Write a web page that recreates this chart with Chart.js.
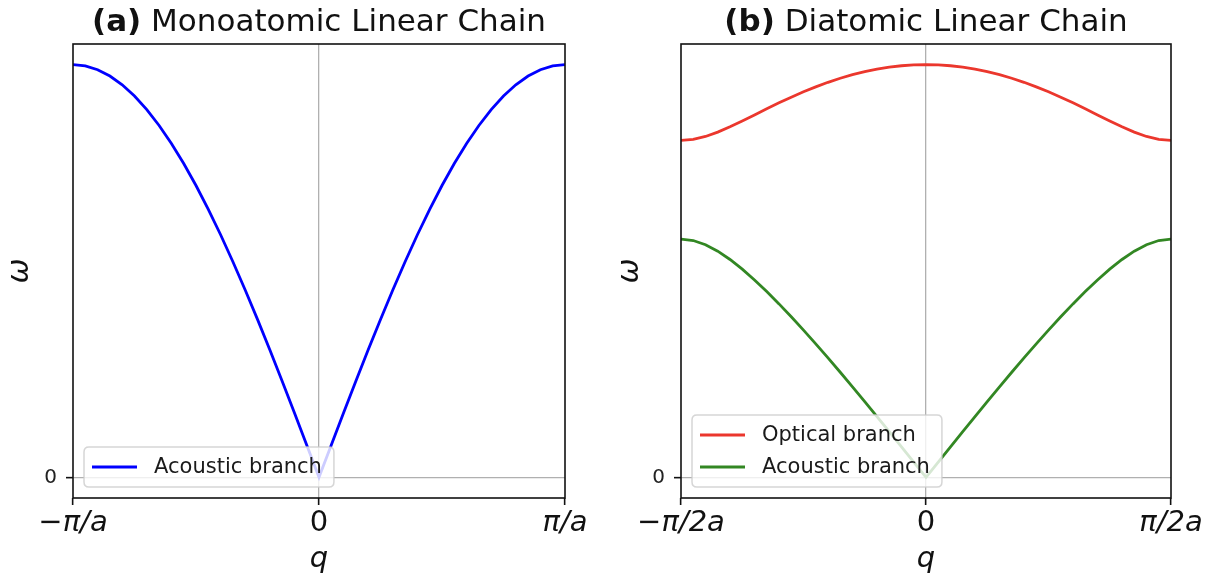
<!DOCTYPE html>
<html>
<head>
<meta charset="utf-8">
<script src="https://cdn.jsdelivr.net/npm/chart.js@4.4.1/dist/chart.umd.min.js"></script>
<style>
  html, body { margin: 0; padding: 0; background: #ffffff; }
  #wrap { position: relative; width: 1219px; height: 584px; overflow: hidden; }
  canvas { position: absolute; top: 0; }
</style>
</head>
<body>
<div id="wrap">
  <canvas id="left" width="610" height="584" style="left:0px"></canvas>
  <canvas id="right" width="609" height="584" style="left:610px"></canvas>
</div>
<script>
// ---- data (wave vector in units of the zone edge, omega in arbitrary units) ----
const qMono = [-1, -0.95, -0.9, -0.85, -0.8, -0.75, -0.7, -0.65, -0.6, -0.55, -0.5, -0.45, -0.4, -0.35, -0.3, -0.25, -0.2, -0.15, -0.1, -0.05, 0,
  0.05, 0.1, 0.15, 0.2, 0.25, 0.3, 0.35, 0.4, 0.45, 0.5, 0.55, 0.6, 0.65, 0.7, 0.75, 0.8, 0.85, 0.9, 0.95, 1];
const omegaMono = [1, 0.9969, 0.9877, 0.9724, 0.9511, 0.9239, 0.8910, 0.8526, 0.8090, 0.7604, 0.7071, 0.6494, 0.5878, 0.5225, 0.4540, 0.3827, 0.3090, 0.2334, 0.1564, 0.0785, 0,
  0.0785, 0.1564, 0.2334, 0.3090, 0.3827, 0.4540, 0.5225, 0.5878, 0.6494, 0.7071, 0.7604, 0.8090, 0.8526, 0.8910, 0.9239, 0.9511, 0.9724, 0.9877, 0.9969, 1];

const qDi = [-1, -0.95, -0.9, -0.85, -0.8, -0.75, -0.7, -0.65, -0.6, -0.55, -0.5, -0.45, -0.4, -0.35, -0.3, -0.25, -0.2, -0.15, -0.1, -0.05, 0,
  0.05, 0.1, 0.15, 0.2, 0.25, 0.3, 0.35, 0.4, 0.45, 0.5, 0.55, 0.6, 0.65, 0.7, 0.75, 0.8, 0.85, 0.9, 0.95, 1];
const omegaOptical = [0.8165, 0.8190, 0.8260, 0.8365, 0.8493, 0.8635, 0.8782, 0.8930, 0.9074, 0.9212, 0.9342, 0.9462, 0.9572, 0.9670, 0.9756, 0.9830, 0.9891, 0.9939, 0.9973, 0.9993, 1.0,
  0.9993, 0.9973, 0.9939, 0.9891, 0.9830, 0.9756, 0.9670, 0.9572, 0.9462, 0.9342, 0.9212, 0.9074, 0.8930, 0.8782, 0.8635, 0.8493, 0.8365, 0.8260, 0.8190, 0.8165];
const omegaAcoustic = [0.5774, 0.5738, 0.5637, 0.5480, 0.5279, 0.5044, 0.4783, 0.4501, 0.4203, 0.3891, 0.3568, 0.3235, 0.2895, 0.2547, 0.2194, 0.1835, 0.1473, 0.1107, 0.0739, 0.0370, 0,
  0.0370, 0.0739, 0.1107, 0.1473, 0.1835, 0.2194, 0.2547, 0.2895, 0.3235, 0.3568, 0.3891, 0.4203, 0.4501, 0.4783, 0.5044, 0.5279, 0.5480, 0.5637, 0.5738, 0.5774];

const xTickValues = [-1, 0, 1];
const monoTickLabels = ['\u2212\u03C0/a', '0', '\u03C0/a'];
const diTickLabels = ['\u2212\u03C0/2a', '0', '\u03C0/2a'];
const yTickValues = [0];
const yTickLabels = ['0'];

const titleMono = ['(a)', ' Monoatomic Linear Chain'];
const titleDi = ['(b)', ' Diatomic Linear Chain'];
const legendMono = ['Acoustic branch'];
const legendDi = ['Optical branch', 'Acoustic branch'];

// ---- styling ----
const FONT = "'DejaVu Sans', 'Liberation Sans', sans-serif";
const BLUE = '#0000ff';
const RED = 'rgb(235,55,45)';
const GREEN = 'rgb(50,135,35)';

function pts(xs, ys) { return xs.map((x, i) => ({ x: x, y: ys[i] })); }

function panelPlugin(titleParts, legendItems) {
  return {
    id: 'panel',
    afterDraw(chart) {
      const ctx = chart.ctx;
      const a = chart.chartArea;
      ctx.save();
      // legend (lower left, semi-transparent frame)
      ctx.font = '21px ' + FONT;
      let maxW = 0;
      legendItems.forEach(it => { maxW = Math.max(maxW, ctx.measureText(it.label).width); });
      const rowH = 32;
      const bx = a.left + 11;
      const bh = 8 + rowH * legendItems.length;
      const by = a.bottom - 11 - bh;
      const bw = 70 + maxW + 12;
      const r = 5;
      ctx.beginPath();
      ctx.moveTo(bx + r, by);
      ctx.lineTo(bx + bw - r, by);
      ctx.quadraticCurveTo(bx + bw, by, bx + bw, by + r);
      ctx.lineTo(bx + bw, by + bh - r);
      ctx.quadraticCurveTo(bx + bw, by + bh, bx + bw - r, by + bh);
      ctx.lineTo(bx + r, by + bh);
      ctx.quadraticCurveTo(bx, by + bh, bx, by + bh - r);
      ctx.lineTo(bx, by + r);
      ctx.quadraticCurveTo(bx, by, bx + r, by);
      ctx.closePath();
      ctx.fillStyle = 'rgba(255,255,255,0.8)';
      ctx.fill();
      ctx.strokeStyle = 'rgba(204,204,204,0.8)';
      ctx.lineWidth = 1.5;
      ctx.stroke();
      legendItems.forEach((it, i) => {
        const cy = by + 4 + rowH / 2 + i * rowH;
        ctx.beginPath();
        ctx.moveTo(bx + 8, cy);
        ctx.lineTo(bx + 53, cy);
        ctx.strokeStyle = it.color;
        ctx.lineWidth = 2.8;
        ctx.stroke();
        ctx.fillStyle = '#1a1a1a';
        ctx.textBaseline = 'middle';
        ctx.textAlign = 'left';
        ctx.fillText(it.label, bx + 70, cy + 1);
      });
      // axes frame
      ctx.strokeStyle = '#111';
      ctx.lineWidth = 1.6;
      ctx.strokeRect(a.left, a.top, a.right - a.left, a.bottom - a.top);
      // title: bold tag + normal text, centred over the axes
      const boldFont = 'bold 31px ' + FONT;
      const normFont = '31px ' + FONT;
      ctx.font = boldFont;
      const w1 = ctx.measureText(titleParts[0]).width;
      ctx.font = normFont;
      const w2 = ctx.measureText(titleParts[1]).width;
      const cx = (a.left + a.right) / 2;
      let x0 = cx - (w1 + w2) / 2;
      ctx.textBaseline = 'alphabetic';
      ctx.textAlign = 'left';
      ctx.fillStyle = '#111';
      ctx.font = boldFont;
      ctx.fillText(titleParts[0], x0, 31);
      ctx.font = normFont;
      ctx.fillText(titleParts[1], x0 + w1, 31);
      ctx.restore();
    }
  };
}

function makeOptions(tickLabels, yAxisWidth, padRight) {
  return {
    responsive: false,
    animation: false,
    devicePixelRatio: 1,
    layout: { padding: { left: 0, right: padRight, top: 44, bottom: 0 } },
    plugins: { legend: { display: false }, tooltip: { enabled: false }, title: { display: false } },
    elements: { point: { radius: 0 }, line: { tension: 0 } },
    scales: {
      x: {
        type: 'linear',
        min: -1,
        max: 1,
        afterBuildTicks(scale) { scale.ticks = xTickValues.map(v => ({ value: v })); },
        afterFit(scale) { scale.height = 86; },
        grid: {
          color: c => (c.tick && c.tick.value === 0) ? '#b0b0b0' : 'rgba(0,0,0,0)',
          lineWidth: 1.3,
          tickColor: '#111',
          tickWidth: 1.6,
          tickLength: 7,
          drawTicks: true
        },
        border: { display: false },
        ticks: {
          autoSkip: false,
          maxRotation: 0,
          padding: 3,
          color: '#111',
          font: c => ({ family: FONT, size: 29, lineHeight: 1.1, style: (c.tick && c.tick.value === 0) ? 'normal' : 'italic' }),
          callback: (v) => { const i = xTickValues.indexOf(v); return i >= 0 ? tickLabels[i] : ''; }
        },
        title: { display: true, text: 'q', color: '#111', font: { family: FONT, size: 29, style: 'italic', lineHeight: 1.2 }, padding: { top: 0, bottom: 7 } }
      },
      y: {
        type: 'linear',
        min: -0.05,
        max: 1.05,
        afterBuildTicks(scale) { scale.ticks = yTickValues.map(v => ({ value: v })); },
        afterFit(scale) { scale.width = yAxisWidth; },
        grid: {
          color: c => (c.tick && c.tick.value === 0) ? '#b0b0b0' : 'rgba(0,0,0,0)',
          lineWidth: 1.3,
          tickColor: '#111',
          tickWidth: 1.6,
          tickLength: 7,
          drawTicks: true
        },
        border: { display: false },
        ticks: {
          padding: 9,
          color: '#222',
          font: { family: FONT, size: 20 },
          callback: (v) => { const i = yTickValues.indexOf(v); return i >= 0 ? yTickLabels[i] : ''; }
        },
        title: { display: true, text: '\u03C9', color: '#111', font: { family: FONT, size: 30, style: 'italic', lineHeight: 1.2 }, padding: { top: 2, bottom: 0 } }
      }
    }
  };
}

new Chart(document.getElementById('left'), {
  type: 'line',
  data: {
    datasets: [
      { label: legendMono[0], data: pts(qMono, omegaMono), borderColor: BLUE, borderWidth: 2.8, fill: false }
    ]
  },
  options: makeOptions(monoTickLabels, 73, 45),
  plugins: [panelPlugin(titleMono, [{ label: legendMono[0], color: BLUE }])]
});

new Chart(document.getElementById('right'), {
  type: 'line',
  data: {
    datasets: [
      { label: legendDi[0], data: pts(qDi, omegaOptical), borderColor: RED, borderWidth: 2.8, fill: false },
      { label: legendDi[1], data: pts(qDi, omegaAcoustic), borderColor: GREEN, borderWidth: 2.8, fill: false }
    ]
  },
  options: makeOptions(diTickLabels, 71, 48),
  plugins: [panelPlugin(titleDi, [{ label: legendDi[0], color: RED }, { label: legendDi[1], color: GREEN }])]
});
</script>
</body>
</html>
